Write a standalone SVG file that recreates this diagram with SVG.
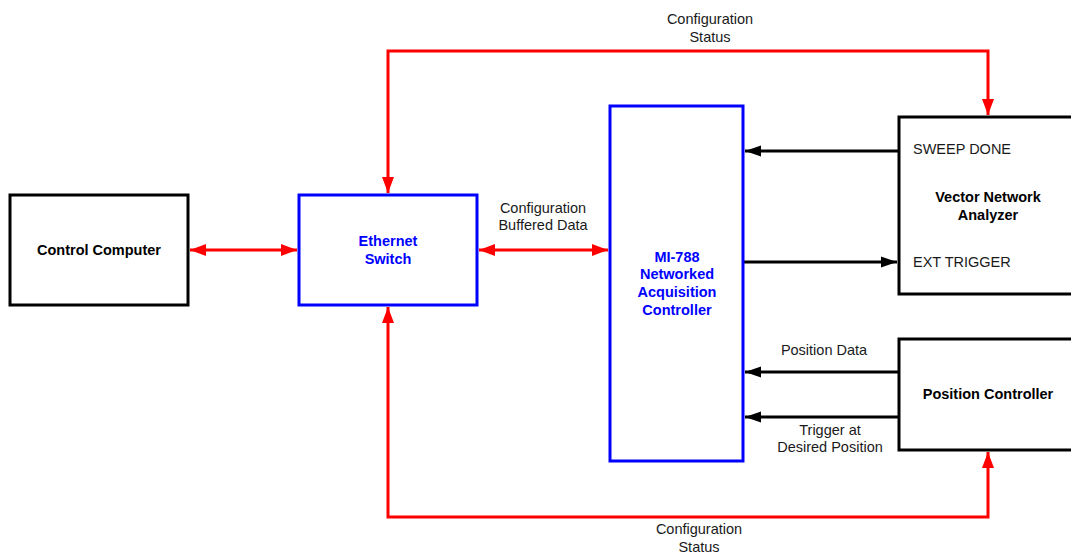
<svg xmlns="http://www.w3.org/2000/svg" width="1071" height="558" viewBox="0 0 1071 558">
<style>
.box{fill:#fff;stroke-width:3}
.blk{stroke:#000}
.blu{stroke:#0000ff}
text{font-family:"Liberation Sans",Arial,sans-serif;font-size:14.5px;fill:#1a1a1a}
.b{font-weight:bold;fill:#000}
.bb{font-weight:bold;fill:#0000ff}
.c{text-anchor:middle}
.red{fill:none;stroke:#ff0000;stroke-width:3;marker-start:url(#ar);marker-end:url(#ar)}
.blkl{fill:none;stroke:#000;stroke-width:3;marker-end:url(#ab)}
</style>
<defs>
<marker id="ar" markerUnits="userSpaceOnUse" markerWidth="16" markerHeight="12" refX="16" refY="6" orient="auto-start-reverse" viewBox="0 0 16 12"><path d="M0,0 L16,6 L0,12 z" fill="#ff0000"/></marker>
<marker id="ab" markerUnits="userSpaceOnUse" markerWidth="16" markerHeight="12" refX="16" refY="6" orient="auto" viewBox="0 0 16 12"><path d="M0,0.5 L16,6 L0,11.5 z" fill="#000"/></marker>
</defs>
<rect width="1071" height="558" fill="#fff"/>
<g id="connectors">
<path class="red" d="M190,250 H297"/>
<path class="red" d="M479,250 H608"/>
<path class="red" d="M388,193 V51 H988 V115"/>
<path class="red" d="M388,307 V517 H988 V452"/>
<path class="blkl" d="M899,151 H745"/>
<path class="blkl" d="M743,262 H897"/>
<path class="blkl" d="M899,372 H745"/>
<path class="blkl" d="M899,417 H745"/>
<text class="c" x="710" y="24">Configuration</text>
<text class="c" x="710" y="42">Status</text>
<text class="c" x="543" y="213">Configuration</text>
<text class="c" x="543" y="230">Buffered Data</text>
<text class="c" x="824" y="355">Position Data</text>
<text class="c" x="830" y="435">Trigger at</text>
<text class="c" x="830" y="452">Desired Position</text>
<text class="c" x="699" y="534">Configuration</text>
<text class="c" x="699" y="552">Status</text>
</g>
<g id="control-computer">
<rect class="box blk" x="10" y="195" width="178" height="110"/>
<text class="c b" x="99" y="255">Control Computer</text>
</g>
<g id="ethernet-switch">
<rect class="box blu" x="299" y="195" width="178" height="110"/>
<text class="c bb" x="388" y="246">Ethernet</text>
<text class="c bb" x="388" y="264">Switch</text>
</g>
<g id="mi-788">
<rect class="box blu" x="610" y="106" width="133" height="355"/>
<text class="c bb" x="677" y="262">MI-788</text>
<text class="c bb" x="677" y="279">Networked</text>
<text class="c bb" x="677" y="297">Acquisition</text>
<text class="c bb" x="677" y="315">Controller</text>
</g>
<g id="vna">
<rect class="box blk" x="899" y="117" width="190" height="177"/>
<text x="913" y="154">SWEEP DONE</text>
<text class="c b" x="988" y="202">Vector Network</text>
<text class="c b" x="988" y="220">Analyzer</text>
<text x="913" y="267">EXT TRIGGER</text>
</g>
<g id="position-controller">
<rect class="box blk" x="899" y="339" width="190" height="111"/>
<text class="c b" x="988" y="399">Position Controller</text>
</g>
</svg>
